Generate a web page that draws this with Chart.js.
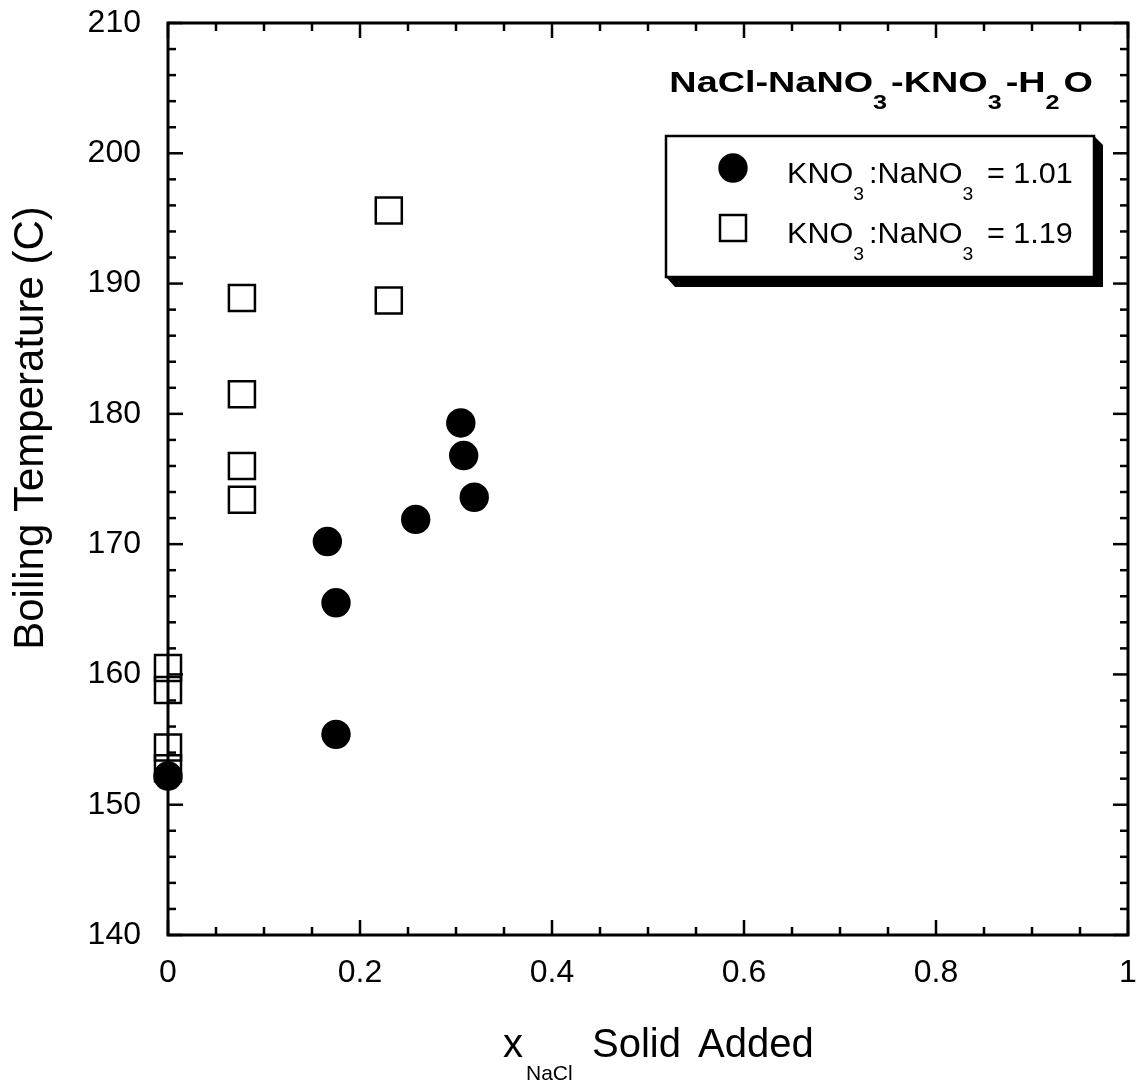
<!DOCTYPE html>
<html>
<head>
<meta charset="utf-8">
<script src="https://cdn.jsdelivr.net/npm/chart.js@4"></script>
<style>
  html, body { margin: 0; padding: 0; background: #fff; }
  canvas { display: block; }
</style>
</head>
<body>
<canvas id="plot" width="1138" height="1084"></canvas>
<script>
/* Data */
const ratio101X = [0, 0.166, 0.175, 0.175, 0.258, 0.305, 0.308, 0.319];
const ratio101Y = [152.2, 170.2, 165.5, 155.4, 171.9, 179.3, 176.8, 173.6];

const ratio119X = [0, 0, 0, 0, 0.077, 0.077, 0.077, 0.077, 0.230, 0.230];
const ratio119Y = [160.5, 158.8, 154.4, 152.8, 188.9, 181.5, 176.0, 173.4, 195.6, 188.7];

const xMajorTicks = [0, 0.2, 0.4, 0.6, 0.8, 1];
const xTickLabels = ["0", "0.2", "0.4", "0.6", "0.8", "1"];
const yMajorTicks = [140, 150, 160, 170, 180, 190, 200, 210];
const yTickLabels = ["140", "150", "160", "170", "180", "190", "200", "210"];
const xMinorStep = 0.05;
const yMinorStep = 2;

const FONT = '"Liberation Sans", Arial, Helvetica, sans-serif';

function toPoints(xs, ys) {
    return xs.map((x, i) => ({ x: x, y: ys[i] }));
}

/* Text with subscript pieces: parts = [[text, isSub], ...]; sx stretches horizontally */
function richWidth(ctx, parts, mainFont, subFont, gap, sx) {
    let w = 0;
    for (const [txt, sub] of parts) {
        ctx.font = sub ? subFont : mainFont;
        w += ctx.measureText(txt).width * sx + (sub ? gap : 0);
    }
    return w;
}
function drawRich(ctx, parts, x, y, mainFont, subFont, subDrop, gap, sx) {
    let cx = x;
    for (const [txt, sub] of parts) {
        ctx.font = sub ? subFont : mainFont;
        ctx.save();
        ctx.translate(cx, sub ? y + subDrop : y);
        ctx.scale(sx, 1);
        ctx.fillText(txt, 0, 0);
        ctx.restore();
        cx += ctx.measureText(txt).width * sx + (sub ? gap : 0);
    }
    return cx;
}

/* Frame with inward ticks on all four sides */
const framePlugin = {
    id: "frame",
    beforeDatasetsDraw(chart) {
        const { ctx, chartArea: a, scales } = chart;
        const xs = scales.x, ys = scales.y;
        ctx.save();
        ctx.strokeStyle = "#000";
        ctx.lineCap = "butt";

        ctx.lineWidth = 2.5;
        const tick = (px, py, dx, dy) => {
            ctx.beginPath();
            ctx.moveTo(px, py);
            ctx.lineTo(px + dx, py + dy);
            ctx.stroke();
        };
        for (let v = xs.min; v <= xs.max + 1e-9; v += xMinorStep) {
            const major = xMajorTicks.some(m => Math.abs(m - v) < 1e-6);
            const len = major ? 15 : 8;
            const px = xs.getPixelForValue(v);
            tick(px, a.bottom, 0, -len);
            tick(px, a.top, 0, len);
        }
        for (let v = ys.min; v <= ys.max + 1e-9; v += yMinorStep) {
            const major = yMajorTicks.some(m => Math.abs(m - v) < 1e-6);
            const len = major ? 15 : 8;
            const py = ys.getPixelForValue(v);
            tick(a.left, py, len, 0);
            tick(a.right, py, -len, 0);
        }

        ctx.lineWidth = 3;
        ctx.strokeRect(a.left, a.top, a.right - a.left, a.bottom - a.top);
        ctx.restore();
    }
};

/* Axis titles, chart label and the shadowed legend box */
const annotatePlugin = {
    id: "annotate",
    afterDraw(chart) {
        const { ctx } = chart;
        ctx.save();
        ctx.fillStyle = "#000";
        ctx.textBaseline = "alphabetic";
        ctx.textAlign = "left";

        // y title
        ctx.save();
        ctx.translate(43, 428);
        ctx.rotate(-Math.PI / 2);
        ctx.font = "42px " + FONT;
        ctx.textAlign = "center";
        ctx.fillText("Boiling Temperature (C)", 0, 0);
        ctx.restore();

        // x title
        ctx.font = "40px " + FONT;
        ctx.fillText("x", 503, 1057);
        ctx.font = "21px " + FONT;
        ctx.fillText("NaCl", 526, 1080);
        ctx.font = "40px " + FONT;
        ctx.fillText("Solid", 592, 1057);
        ctx.fillText("Added", 698, 1057);

        // system label, right aligned
        const titleParts = [["NaCl-NaNO", false], ["3", true], ["-KNO", false], ["3", true], ["-H", false], ["2", true], ["O", false]];
        const tMain = "bold 30px " + FONT, tSub = "bold 20px " + FONT;
        const tw = richWidth(ctx, titleParts, tMain, tSub, 4, 1.26);
        drawRich(ctx, titleParts, 1093 - tw, 92, tMain, tSub, 17, 4, 1.26);

        // legend box with drop shadow
        const bx = 666, by = 136, bw = 428, bh = 141, sh = 9;
        ctx.beginPath();
        ctx.moveTo(bx, by + bh);
        ctx.lineTo(bx + sh, by + bh + sh + 1);
        ctx.lineTo(bx + bw + sh, by + bh + sh + 1);
        ctx.lineTo(bx + bw + sh, by + sh);
        ctx.lineTo(bx + bw, by);
        ctx.closePath();
        ctx.fill();
        ctx.fillStyle = "#fff";
        ctx.fillRect(bx, by, bw, bh);
        ctx.strokeStyle = "#000";
        ctx.lineWidth = 2.5;
        ctx.strokeRect(bx, by, bw, bh);

        ctx.fillStyle = "#000";
        const mx = bx + 67;
        ctx.beginPath();
        ctx.arc(mx, 168, 14.7, 0, Math.PI * 2);
        ctx.fill();
        ctx.lineWidth = 2.5;
        ctx.strokeRect(mx - 13, 228 - 13, 26, 26);

        const lMain = "30px " + FONT, lSub = "19px " + FONT;
        drawRich(ctx, [["KNO", false], ["3", true], [":NaNO", false], ["3", true], [" = 1.01", false]], bx + 121, 183, lMain, lSub, 17, 5, 1.02);
        drawRich(ctx, [["KNO", false], ["3", true], [":NaNO", false], ["3", true], [" = 1.19", false]], bx + 121, 243, lMain, lSub, 17, 5, 1.02);
        ctx.restore();
    }
};

const ctx = document.getElementById("plot").getContext("2d");
const chart = new Chart(ctx, {
    type: "scatter",
    data: {
        datasets: [
            {
                label: "KNO3:NaNO3 = 1.01",
                data: toPoints(ratio101X, ratio101Y),
                pointStyle: "circle",
                pointRadius: 14.7,
                backgroundColor: "#000",
                borderColor: "#000",
                borderWidth: 0,
                clip: false
            },
            {
                label: "KNO3:NaNO3 = 1.19",
                data: toPoints(ratio119X, ratio119Y),
                pointStyle: "rect",
                pointRadius: 18.4,
                backgroundColor: "rgba(0,0,0,0)",
                borderColor: "#000",
                borderWidth: 2.5,
                clip: false
            }
        ]
    },
    options: {
        responsive: false,
        animation: false,
        devicePixelRatio: 1,
        events: [],
        layout: { autoPadding: false, padding: { top: 23, right: 10, left: 0, bottom: 0 } },
        plugins: {
            legend: { display: false },
            tooltip: { enabled: false },
            title: { display: false }
        },
        scales: {
            x: {
                type: "linear",
                min: 0,
                max: 1,
                afterBuildTicks: s => { s.ticks = xMajorTicks.map(v => ({ value: v })); },
                afterFit: s => { s.height = 149; s.paddingLeft = 0; s.paddingRight = 0; },
                ticks: {
                    color: "#000",
                    font: { family: FONT, size: 32 },
                    padding: 19,
                    maxRotation: 0,
                    callback: v => xTickLabels[xMajorTicks.findIndex(m => Math.abs(m - v) < 1e-6)]
                },
                grid: { display: false, drawTicks: false },
                border: { display: false }
            },
            y: {
                type: "linear",
                min: 140,
                max: 210,
                afterBuildTicks: s => { s.ticks = yMajorTicks.map(v => ({ value: v })); },
                afterFit: s => { s.width = 168; s.paddingTop = 0; s.paddingBottom = 0; },
                ticks: {
                    color: "#000",
                    font: { family: FONT, size: 32 },
                    padding: 27,
                    callback: v => yTickLabels[yMajorTicks.findIndex(m => Math.abs(m - v) < 1e-6)]
                },
                grid: { display: false, drawTicks: false },
                border: { display: false }
            }
        }
    },
    plugins: [framePlugin, annotatePlugin]
});
</script>
</body>
</html>
